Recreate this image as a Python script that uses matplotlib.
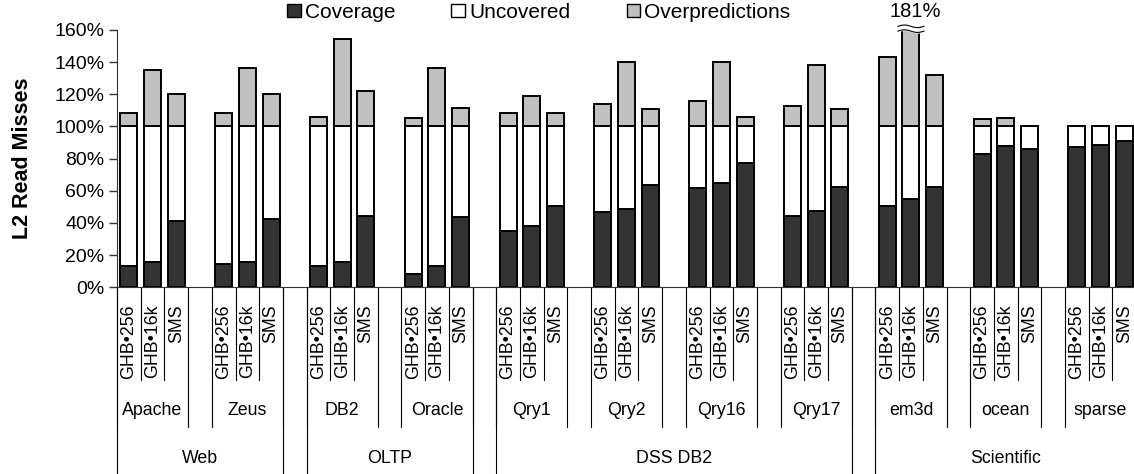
import numpy as np
import matplotlib.pyplot as plt
from matplotlib.patches import Patch

plt.rcParams['font.family'] = ['Liberation Sans', 'DejaVu Sans']

# three levels of categories
groups = ['Web', 'OLTP', 'DSS DB2', 'Scientific']
group_sizes = [2, 2, 4, 3]
workloads = ['Apache', 'Zeus', 'DB2', 'Oracle', 'Qry1', 'Qry2', 'Qry16', 'Qry17',
             'em3d', 'ocean', 'sparse']
schemes = ['GHB\u2022256', 'GHB\u202216k', 'SMS']

# % of L2 read misses, one row per workload, columns follow schemes
coverage = [
    [13.4, 15.5, 41.2],
    [14.5, 15.5, 42.5],
    [13.4, 15.5, 44.3],
    [8.1, 13.4, 43.5],
    [35.0, 38.1, 50.7],
    [46.8, 48.7, 63.6],
    [61.6, 64.7, 77.5],
    [44.3, 47.6, 62.6],
    [50.7, 54.9, 62.6],
    [82.9, 88.1, 86.0],
    [87.4, 88.3, 91.2],
]
overpredictions = [
    [8.2, 35.1, 20.2],
    [8.2, 36.2, 20.2],
    [6.1, 54.2, 22.3],
    [5.1, 36.2, 11.7],
    [8.2, 19.0, 8.2],
    [13.8, 40.3, 10.7],
    [16.0, 40.3, 6.1],
    [12.7, 38.2, 10.9],
    [43.4, 81.0, 32.0],
    [4.5, 5.5, 0.0],
    [0.0, 0.0, 0.0],
]

cov = np.array(coverage).ravel()
unc = 100 - cov
ovp = np.array(overpredictions).ravel()
# each workload gets 3 bar slots plus one blank slot
x = np.array([w * 4 + s for w in range(len(workloads)) for s in range(3)])

fig = plt.figure(figsize=(11.34, 4.74), dpi=100)
ax_h = 257.3
ax = fig.add_axes([117 / 1134, 186.7 / 474, 44 * 23.7 / 1134, ax_h / 474])

bw = 0.72
ek = dict(edgecolor='black', linewidth=1.4)
ax.bar(x, cov, bw, color='#333333', **ek)
ax.bar(x, unc, bw, bottom=cov, color='white', **ek)
ax.bar(x, ovp, bw, bottom=cov + unc, color='#c0c0c0', **ek)

ax.set_xlim(-0.5, 43.5)
ax.set_ylim(0, 160)
ax.set_yticks(np.arange(0, 161, 20))
ax.set_yticklabels(['%d%%' % v for v in range(0, 161, 20)])
ax.tick_params(axis='y', labelsize=14, direction='out', length=6, width=1,
               pad=3, color='#333333')
ax.set_xticks([])
for s in ['top', 'right']:
    ax.spines[s].set_visible(False)
ax.spines['left'].set_color('#333333')
ax.spines['bottom'].set_color('#333333')
ax.set_ylabel('L2 Read Misses', fontsize=15.5, fontweight='bold')
ax.yaxis.set_label_coords(-0.081, 0.5)

# broken em3d bar
i_big = 8 * 3 + 1
xb = x[i_big]
ax.text(xb + 0.2, 1.071, '%d%%' % round(cov[i_big] + unc[i_big] + ovp[i_big]),
        transform=ax.get_xaxis_transform(), ha='center', va='center', fontsize=14.5)
wx = np.linspace(xb - 0.55, xb + 0.55, 40)
wave = np.sin((wx - wx[0]) / (wx[-1] - wx[0]) * 2 * np.pi) * 0.8
ax.fill_between(wx, 159.3 + wave, 162.3 + wave, color='white', clip_on=False, zorder=5)
ax.plot(wx, 159.3 + wave, color='black', lw=0.8, clip_on=False, zorder=6)
ax.plot(wx, 162.3 + wave, color='black', lw=0.8, clip_on=False, zorder=6)

# multi-level category axis drawn by hand
tr = ax.get_xaxis_transform()
def py(px):
    return -px / ax_h

lv1, lv2, lv3 = py(93), py(139.4), py(200)
line_kw = dict(color='black', lw=0.8, transform=tr, clip_on=False)

for w, name in enumerate(workloads):
    s0 = w * 4
    for s, lab in enumerate(schemes):
        ax.text(s0 + s, py(17), lab, rotation=90, ha='center', va='top',
                fontsize=12.8, transform=tr)
    for b in (s0 + 0.5, s0 + 1.5):
        ax.plot([b, b], [0, lv1], **line_kw)
    for b in (s0 - 0.5, s0 + 2.5):
        ax.plot([b, b], [0, lv2], **line_kw)
    ax.text(s0 + 1, py(123.4), name, ha='center', va='center', fontsize=12.8,
            transform=tr)

start = 0
for g, n in zip(groups, group_sizes):
    a = start * 4 - 0.5
    b = (start + n) * 4 - 1.5
    ax.plot([a, a], [0, lv3], **line_kw)
    ax.plot([b, b], [0, lv3], **line_kw)
    ax.text((a + b) / 2, py(171), g, ha='center', va='center', fontsize=12.8,
            transform=tr)
    start += n

handles = [Patch(facecolor='#333333', edgecolor='black', label='Coverage'),
           Patch(facecolor='white', edgecolor='black', label='Uncovered'),
           Patch(facecolor='#c0c0c0', edgecolor='black', label='Overpredictions')]
fig.legend(handles=handles, loc='center', bbox_to_anchor=(0.475, 0.9736), ncol=3,
           frameon=False, fontsize=15, handlelength=0.65, handleheight=0.6,
           handletextpad=0.2, columnspacing=2.7, borderaxespad=0)

fig.savefig('out.png', dpi=100)
